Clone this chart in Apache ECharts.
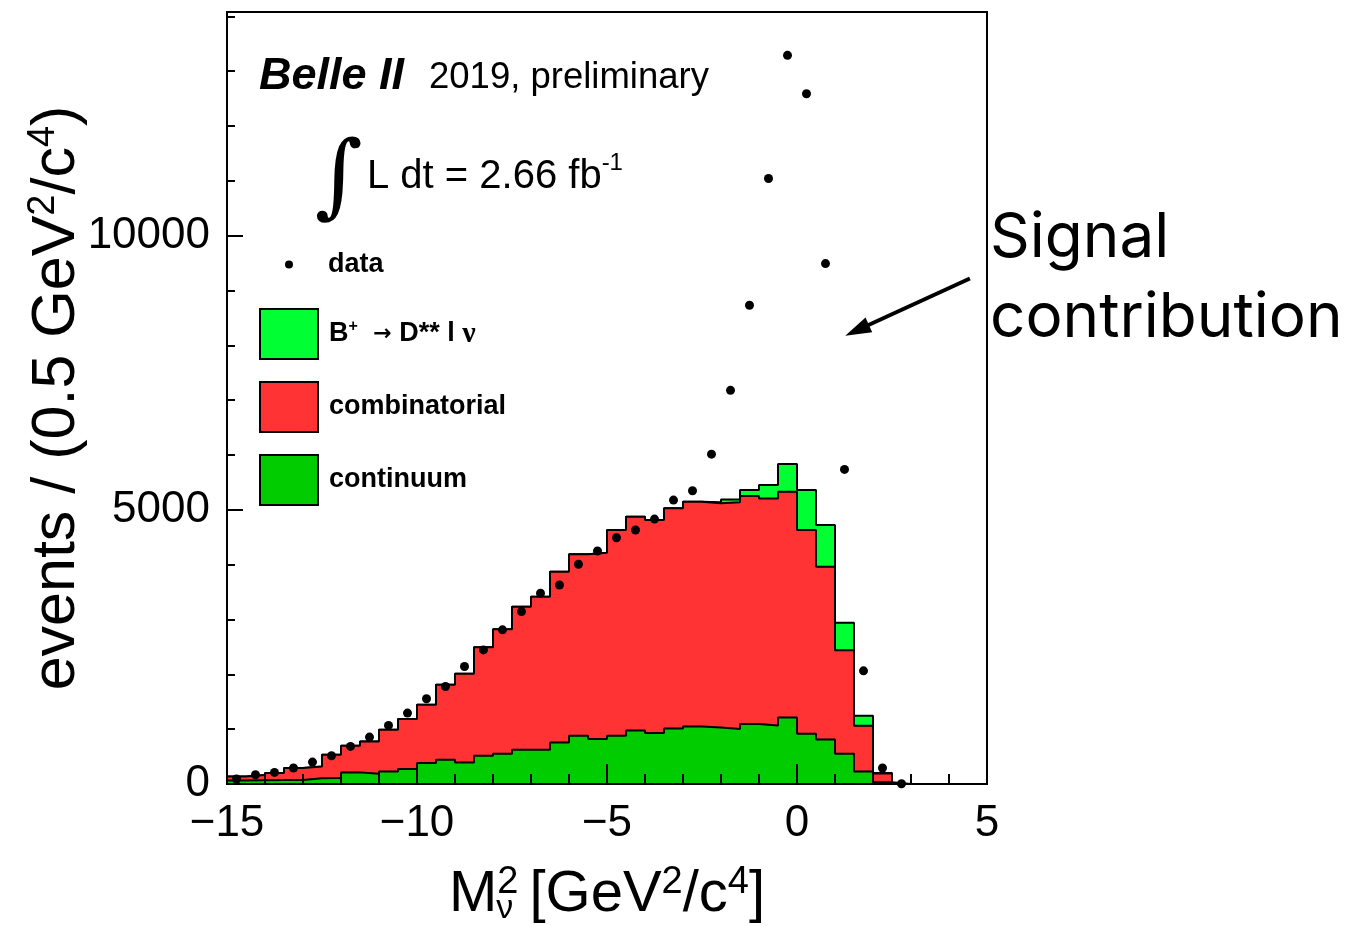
<!DOCTYPE html>
<html>
<head>
<meta charset="utf-8">
<title>Belle II missing mass squared</title>
<script src="https://cdn.jsdelivr.net/npm/echarts@6.0.0/dist/echarts.min.js"></script>
<style>
html, body { margin: 0; padding: 0; background: #fff; }
#chart { width: 1352px; height: 926px; }
</style>
</head>
<body>
<div id="chart"></div>
<script>
// histogram bin edges, M_nu^2 in GeV^2/c^4 (0.5 wide bins)
const binEdges = [-15, -14.5, -14, -13.5, -13, -12.5, -12, -11.5, -11, -10.5,
  -10, -9.5, -9, -8.5, -8, -7.5, -7, -6.5, -6, -5.5,
  -5, -4.5, -4, -3.5, -3, -2.5, -2, -1.5, -1, -0.5,
  0, 0.5, 1, 1.5, 2, 2.5, 3, 3.5, 4, 4.5, 5]

// stacked MC components, events per bin (bottom to top)
const continuum = [66, 70, 72, 75, 105, 110, 212, 188, 230, 273,
  382, 443, 394, 515, 552, 625, 625, 758, 880, 820,
  880, 977, 929, 1013, 1050, 1031, 1001, 1093, 1068, 1213,
  916, 810, 552, 230, 30, 0, 0, 0, 0, 0]
const combinatorial = [73, 92, 128, 216, 216, 424, 486, 588, 759, 911,
  1062, 1366, 1615, 1980, 2271, 2610, 2792, 3115, 3309, 3399,
  3752, 3898, 3885, 4014, 4098, 4089, 4136, 4158, 4141, 4117,
  3716, 3154, 1888, 832, 160, 0, 0, 0, 0, 0]
const signal = [0, 0, 0, 0, 0, 0, 0, 0, 0, 0,
  0, 0, 0, 0, 0, 0, 0, 0, 0, 0,
  0, 0, 0, 0, 0, 17, 54, 110, 243, 504,
  729, 759, 500, 182, 10, 0, 0, 0, 0, 0]

// data points, one per bin (bins above 2.5 are empty)
const dataCounts = [91, 169, 212, 291, 400, 515, 685, 856, 1068, 1293,
  1554, 1778, 2142, 2446, 2811, 3144, 3479, 3630, 4007, 4250,
  4492, 4632, 4832, 5178, 5348, 6016, 7180, 8731, 11044, 13290,
  12590, 9492, 5738, 2064, 291, 5]

const xTicks = [-15, -10, -5, 0, 5]
const yTicks = [0, 5000, 10000]

const HELV = '"Liberation Sans", Arial, Helvetica, sans-serif'
const colSignal = '#00ff33'
const colComb = '#ff3333'
const colCont = '#00cc00'

let chart = echarts.init(document.getElementById('chart'))

// cumulative heights of the stack (THStack style)
const stackCont = continuum.slice()
const stackComb = continuum.map((v, i) => v + combinatorial[i])
const stackTotal = stackComb.map((v, i) => v + signal[i])

// step line points: one per left bin edge, plus the closing right edge
function stepData (vals) {
  return binEdges.map((x, i) => [x, vals[Math.min(i, vals.length - 1)]])
}

function histSeries (name, vals, fill, z) {
  return {
    name: name,
    type: 'line',
    step: 'end',
    data: stepData(vals),
    symbol: 'none',
    color: fill,
    z: z,
    lineStyle: { color: '#000', width: 2 },
    areaStyle: { color: fill, opacity: 1, origin: 'start' },
    emphasis: { disabled: true },
    silent: true
  }
}

const binCenters = dataCounts.map((_, i) => (binEdges[i] + binEdges[i + 1]) / 2)
const sigName = 'B+ -> D** l nu'

let option = {
  animation: false,
  backgroundColor: '#fff',
  grid: {
    left: 227,
    right: 365,
    top: 12,
    bottom: 142,
    show: true,
    borderColor: '#000',
    borderWidth: 2,
    outerBoundsMode: 'none'
  },
  legend: [
    {
      data: ['data'],
      orient: 'vertical',
      left: 285,
      top: 251,
      padding: 0,
      icon: 'circle',
      itemWidth: 8,
      itemHeight: 8,
      selectedMode: false,
      textStyle: { fontFamily: HELV, fontSize: 27, fontWeight: 'bold', color: '#000', padding: [0, 0, 0, 30] }
    },
    {
      data: [
        { name: sigName, itemStyle: { color: colSignal, borderColor: '#000', borderWidth: 2 } },
        { name: 'combinatorial', itemStyle: { color: colComb, borderColor: '#000', borderWidth: 2 } },
        { name: 'continuum', itemStyle: { color: colCont, borderColor: '#000', borderWidth: 2 } }
      ],
      orient: 'vertical',
      left: 259,
      top: 308,
      padding: 0,
      icon: 'rect',
      itemWidth: 58,
      itemHeight: 50,
      itemGap: 21,
      selectedMode: false,
      formatter: function (name) {
        if (name === sigName) {
          return '{b|B}{p|+}{a|  \u2192 }{b|D** l }{n|\u03BD}'
        }
        return name
      },
      textStyle: {
        fontFamily: HELV,
        fontSize: 27,
        fontWeight: 'bold',
        color: '#000',
        padding: [0, 0, 0, 6],
        rich: {
          b: { fontFamily: HELV, fontSize: 27, fontWeight: 'bold', color: '#000', lineHeight: 30 },
          p: { fontFamily: HELV, fontSize: 16, fontWeight: 'bold', color: '#000', verticalAlign: 'top', lineHeight: 16 },
          a: { fontFamily: '"DejaVu Sans", sans-serif', fontSize: 22, color: '#000', lineHeight: 30 },
          n: { fontFamily: '"Liberation Serif", serif', fontSize: 30, color: '#000', lineHeight: 30 }
        }
      }
    }
  ],
  xAxis: {
    type: 'value',
    min: -15,
    max: 5,
    interval: 5,
    zlevel: 1,
    z: 10,
    name: '{m|M}{sup|2}{sub|\u03BD}{m| [GeV}{sup|2}{m|/c}{sup|4}{m|]}',
    nameLocation: 'middle',
    nameGap: 80,
    nameMoveOverlap: false,
    nameTextStyle: {
      fontFamily: HELV,
      fontSize: 58,
      color: '#000',
      rich: {
        m: { fontFamily: HELV, fontSize: 58, color: '#000', lineHeight: 62 },
        sup: { fontFamily: HELV, fontSize: 38, color: '#000', verticalAlign: 'top', lineHeight: 36 },
        sub: { fontFamily: HELV, fontSize: 34, color: '#000', verticalAlign: 'bottom', lineHeight: 30, padding: [0, 0, 0, -22] }
      }
    },
    axisLine: { show: true, onZero: false, lineStyle: { color: '#000', width: 2 } },
    axisTick: { show: true, inside: true, length: 20, lineStyle: { color: '#000', width: 2 } },
    minorTick: { show: true, splitNumber: 5, length: 10, lineStyle: { color: '#000', width: 2 } },
    splitLine: { show: false },
    axisLabel: {
      fontFamily: HELV,
      fontSize: 44,
      color: '#000',
      margin: 18,
      formatter: function (v) { return xTicks.indexOf(v) >= 0 ? String(v).replace('-', '\u2212') : '' }
    }
  },
  yAxis: [
    {
      type: 'value',
      position: 'left',
      min: 0,
      max: 14080,
      interval: 1000,
      zlevel: 1,
      z: 10,
      name: '{m|events / (0.5 GeV}{sup|2}{m|/c}{sup|4}{m|)}',
      nameLocation: 'middle',
      nameGap: 138,
      nameMoveOverlap: false,
      nameTextStyle: {
        fontFamily: HELV,
        fontSize: 61,
        color: '#000',
        rich: {
          m: { fontFamily: HELV, fontSize: 61, color: '#000', lineHeight: 64 },
          sup: { fontFamily: HELV, fontSize: 38, color: '#000', verticalAlign: 'top', lineHeight: 38 }
        }
      },
      axisLine: { show: true, onZero: false, lineStyle: { color: '#000', width: 2 } },
      axisTick: { show: true, inside: true, length: 8, lineStyle: { color: '#000', width: 2 } },
      splitLine: { show: false },
      axisLabel: {
        fontFamily: HELV,
        fontSize: 44,
        color: '#000',
        margin: 17,
        showMaxLabel: false,
        formatter: function (v) { return yTicks.indexOf(v) >= 0 ? String(v) : '' }
      }
    },
    {
      // longer ticks at the labelled values
      type: 'value',
      position: 'left',
      min: 0,
      max: 14080,
      interval: 5000,
      zlevel: 1,
      z: 10,
      axisLine: { show: false, onZero: false },
      axisTick: { show: true, inside: true, length: 16, lineStyle: { color: '#000', width: 2 } },
      splitLine: { show: false },
      axisLabel: { show: false }
    }
  ],
  series: [
    histSeries(sigName, stackTotal, colSignal, 3),
    histSeries('combinatorial', stackComb, colComb, 4),
    histSeries('continuum', stackCont, colCont, 5),
    {
      name: 'data',
      type: 'scatter',
      data: binCenters.map((x, i) => [x, dataCounts[i]]),
      symbol: 'circle',
      symbolSize: 9,
      itemStyle: { color: '#000', opacity: 1 },
      z: 6,
      silent: true,
      markLine: {
        silent: true,
        symbol: ['none', 'triangle'],
        symbolSize: [16, 26],
        label: { show: false },
        lineStyle: { color: '#000', width: 4, type: 'solid' },
        data: [[{ coord: [4.55, 9220] }, { coord: [1.58, 8275] }]]
      }
    }
  ],
  graphic: [
    {
      type: 'text', x: 259, y: 77,
      style: { text: 'Belle II', fontFamily: HELV, fontSize: 45, fontWeight: 'bold', fontStyle: 'italic', fill: '#000', verticalAlign: 'middle' }
    },
    {
      type: 'text', x: 429, y: 78,
      style: { text: '2019, preliminary', fontFamily: HELV, fontSize: 36.5, fill: '#000', verticalAlign: 'middle' }
    },
    {
      type: 'text', x: 315, y: 182,
      style: { text: '\u222B', fontFamily: '"DejaVu Serif", serif', fontSize: 92, fill: '#000', verticalAlign: 'middle' }
    },
    {
      type: 'text', x: 367, y: 174,
      style: {
        text: '{m|L dt = 2.66 fb}{s|-1}',
        verticalAlign: 'middle',
        rich: {
          m: { fontFamily: HELV, fontSize: 40, fill: '#000', lineHeight: 46, verticalAlign: 'bottom' },
          s: { fontFamily: HELV, fontSize: 24, fill: '#000', lineHeight: 24, verticalAlign: 'top' }
        }
      }
    },
    {
      type: 'text', x: 990, y: 238,
      style: { text: 'Signal', fontFamily: 'Inter, "Noto Sans", sans-serif', fontSize: 62, fill: '#000', verticalAlign: 'middle' }
    },
    {
      type: 'text', x: 990, y: 318,
      style: { text: 'contribution', fontFamily: 'Inter, "Noto Sans", sans-serif', fontSize: 62, fill: '#000', verticalAlign: 'middle' }
    }
  ]
}

option && chart.setOption(option)
</script>
</body>
</html>
